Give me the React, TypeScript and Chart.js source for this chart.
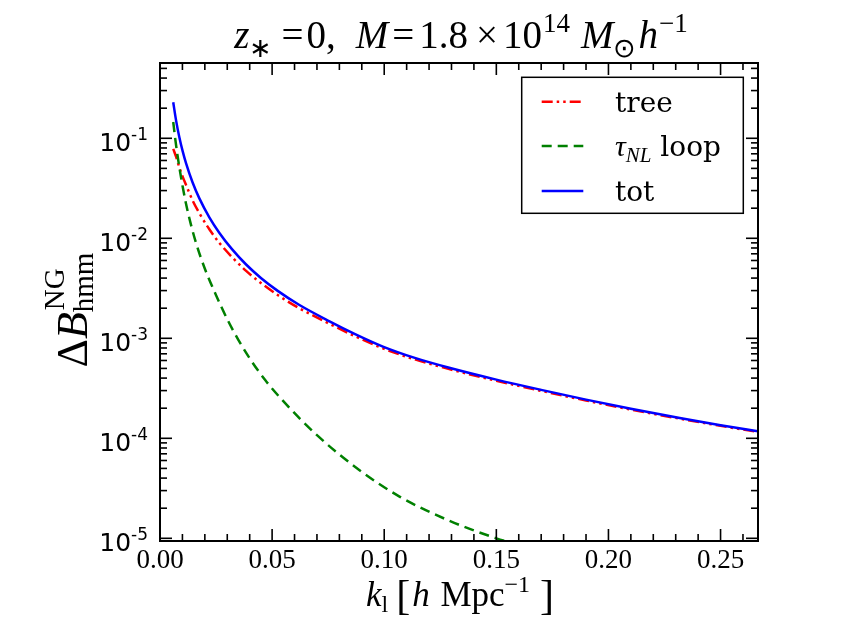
import { useEffect, useRef } from 'react';
import { Chart, registerables } from 'chart.js';
Chart.register(...registerables);

// k_l values [h/Mpc] and Delta B curves
const kMain = [0.0059, 0.0072, 0.0086, 0.0101, 0.0116, 0.0145, 0.0175, 0.022, 0.0265, 0.032, 0.0384, 0.045, 0.0525, 0.062, 0.0756, 0.087, 0.0994, 0.114, 0.129, 0.15, 0.17, 0.19, 0.21, 0.2318, 0.25, 0.2667];
const treeVals = [0.0785, 0.0651, 0.0513, 0.0414, 0.0342, 0.024, 0.0179, 0.0123, 0.00899, 0.00653, 0.00472, 0.003575, 0.002707, 0.002006, 0.001396, 0.001049, 0.000793, 0.000612, 0.000492, 0.000376, 0.000298, 0.0002387, 0.0001939, 0.0001571, 0.0001332, 0.0001157];
const totVals = [0.229, 0.1494, 0.1032, 0.0744, 0.0564, 0.0363, 0.0252, 0.0162, 0.01131, 0.00783, 0.00547, 0.004012, 0.002979, 0.002164, 0.001479, 0.001102, 0.000827, 0.000633, 0.000507, 0.000386, 0.000305, 0.0002437, 0.0001976, 0.0001598, 0.0001353, 0.0001174];
const kLoop = [0.0059, 0.0068, 0.0078, 0.009, 0.0101, 0.0116, 0.0138, 0.0162, 0.0198, 0.025, 0.03, 0.035, 0.04, 0.047, 0.055, 0.0705, 0.089, 0.107, 0.129, 0.15, 0.16];
const loopVals = [0.1455, 0.0986, 0.0676, 0.0457, 0.033, 0.0222, 0.0137, 0.0088, 0.0051, 0.0027, 0.00155, 0.00096, 0.00063, 0.00038, 0.000235, 0.000105, 4.8e-5, 2.6e-5, 1.5e-5, 1.0e-5, 8.6e-6];

const xMajor = [0, 0.05, 0.1, 0.15, 0.2, 0.25];
const xLabels = ['0.00', '0.05', '0.10', '0.15', '0.20', '0.25'];
const yDecades = [1e-5, 1e-4, 1e-3, 1e-2, 1e-1];
const yExponents = ['-5', '-4', '-3', '-2', '-1'];

const X_MAX = 0.2667;
const Y_MIN = 9.4e-6;
const Y_MAX = 0.566;

const MATH = '"Liberation Serif"';
const SERIF = '"DejaVu Serif"';
const SANS = '"DejaVu Sans"';

const RED = '#ff0000';
const GREEN = '#008000';
const BLUE = '#0000ff';
const TREE_DASH = [11, 4, 2.5, 4, 2.5, 4];
const LOOP_DASH = [10, 6];

type Seg = { t: string; f: string; dy?: number; gap?: number };

function drawSegs(ctx: CanvasRenderingContext2D, segs: Seg[], x: number, y: number, align: 'left' | 'center' | 'right') {
  let w = 0;
  for (const s of segs) { ctx.font = s.f; w += ctx.measureText(s.t).width + (s.gap || 0); }
  let cx = align === 'center' ? x - w / 2 : align === 'right' ? x - w : x;
  ctx.textAlign = 'left';
  ctx.textBaseline = 'alphabetic';
  for (const s of segs) {
    ctx.font = s.f;
    ctx.fillText(s.t, cx, y + (s.dy || 0));
    cx += ctx.measureText(s.t).width + (s.gap || 0);
  }
}

const decorations = {
  id: 'decorations',
  afterDraw(chart: Chart) {
    const ctx = chart.ctx;
    const xs = chart.scales.x;
    const ys = chart.scales.y;
    const { left, right, top, bottom } = chart.chartArea;
    ctx.save();
    ctx.strokeStyle = '#000';
    ctx.fillStyle = '#000';
    ctx.setLineDash([]);

    const seg = (x1: number, y1: number, x2: number, y2: number) => {
      ctx.beginPath(); ctx.moveTo(x1, y1); ctx.lineTo(x2, y2); ctx.stroke();
    };

    // ticks, pointing inward on all four sides
    ctx.lineWidth = 1.6;
    for (let i = 0; i <= 26; i++) {
      const px = xs.getPixelForValue(i / 100);
      const len = i % 5 === 0 ? 12 : 7;
      seg(px, bottom, px, bottom - len);
      seg(px, top, px, top + len);
    }
    for (let e = -6; e <= 0; e++) {
      for (let m = 1; m <= 9; m++) {
        const v = m * Math.pow(10, e);
        if (v < Y_MIN || v > Y_MAX) continue;
        const py = ys.getPixelForValue(v);
        const len = m === 1 ? 12 : 7;
        seg(left, py, left + len, py);
        seg(right, py, right - len, py);
      }
    }

    ctx.lineWidth = 2;
    ctx.strokeRect(left, top, right - left, bottom - top);

    // tick labels
    ctx.font = `27px ${MATH}`;
    ctx.textAlign = 'center';
    ctx.textBaseline = 'alphabetic';
    xMajor.forEach((v, i) => ctx.fillText(xLabels[i], xs.getPixelForValue(v), bottom + 27));
    yDecades.forEach((v, i) => {
      const py = ys.getPixelForValue(v);
      drawSegs(ctx, [
        { t: '10', f: `25px ${SANS}` },
        { t: yExponents[i], f: `17px ${SANS}`, dy: -11 },
      ], left - 12, py + 13, 'right');
    });

    // title
    const T = 39;
    const S = 27;
    drawSegs(ctx, [
      { t: 'z', f: `italic ${T}px ${MATH}` },
      { t: '\u2217', f: `${S}px ${MATH}`, dy: 9, gap: 9 },
      { t: '=', f: `${T}px ${MATH}`, gap: 3 },
      { t: '0,', f: `${T}px ${MATH}`, gap: 20 },
      { t: 'M', f: `italic ${T}px ${MATH}`, gap: 4 },
      { t: '=', f: `${T}px ${MATH}`, gap: 5 },
      { t: '1.8', f: `${T}px ${MATH}`, gap: 8 },
      { t: '\u00d7', f: `${T}px ${MATH}`, gap: 5 },
      { t: '10', f: `${T}px ${MATH}`, gap: 1 },
      { t: '14', f: `${S}px ${MATH}`, dy: -16, gap: 11 },
      { t: 'M', f: `italic ${T}px ${MATH}` },
      { t: '\u2299', f: `${S}px ${MATH}`, dy: 9, gap: 2 },
      { t: 'h', f: `italic ${T}px ${MATH}`, gap: 1 },
      { t: '\u22121', f: `${S}px ${MATH}`, dy: -16 },
    ], (left + right) / 2 + 2, 48, 'center');

    // x axis label
    drawSegs(ctx, [
      { t: 'k', f: `italic 35px ${MATH}` },
      { t: 'l', f: `24px ${MATH}`, dy: 6, gap: 8 },
      { t: '[', f: `42px ${MATH}`, dy: 3, gap: 2 },
      { t: 'h', f: `italic 35px ${MATH}`, gap: 2 },
      { t: ' Mpc', f: `35px ${MATH}` },
      { t: '\u22121', f: `24px ${MATH}`, dy: -14, gap: 10 },
      { t: ']', f: `42px ${MATH}`, dy: 3 },
    ], (left + right) / 2 + 1, 606, 'center');

    // y axis label, rotated
    ctx.save();
    ctx.translate(87, (top + bottom) / 2 + 8);
    ctx.rotate(-Math.PI / 2);
    ctx.textAlign = 'left';
    ctx.font = `44px ${MATH}`;
    const dW = ctx.measureText('\u0394').width;
    ctx.font = `italic 44px ${MATH}`;
    const bW = ctx.measureText('B').width;
    ctx.font = `29px ${MATH}`;
    const subW = ctx.measureText('hmm').width;
    const x0 = -(dW + bW + subW) / 2;
    ctx.font = `44px ${MATH}`;
    ctx.fillText('\u0394', x0, 0);
    ctx.font = `italic 44px ${MATH}`;
    ctx.fillText('B', x0 + dW, 0);
    ctx.font = `29px ${MATH}`;
    ctx.fillText('hmm', x0 + dW + bW, 6);
    ctx.fillText('NG', x0 + dW + bW + 2, -23);
    ctx.restore();

    // legend
    const lx = 521.7, ly = 77.3, lw = 221.6, lh = 136;
    ctx.fillStyle = '#fff';
    ctx.fillRect(lx, ly, lw, lh);
    ctx.lineWidth = 1.5;
    ctx.strokeStyle = '#000';
    ctx.strokeRect(lx, ly, lw, lh);
    const rows = [
      { y: 101.7, c: RED, d: TREE_DASH },
      { y: 146, c: GREEN, d: LOOP_DASH },
      { y: 191, c: BLUE, d: [] as number[] },
    ];
    ctx.lineWidth = 2.5;
    rows.forEach((r) => {
      ctx.strokeStyle = r.c;
      ctx.setLineDash(r.d);
      seg(541.7, r.y, 583.3, r.y);
    });
    ctx.setLineDash([]);
    ctx.fillStyle = '#000';
    drawSegs(ctx, [{ t: 'tree', f: `28px ${SERIF}` }], 615, 112, 'left');
    drawSegs(ctx, [
      { t: '\u03c4', f: `italic 30px ${MATH}` },
      { t: 'NL', f: `italic 21px ${MATH}`, dy: 6 },
      { t: ' loop', f: `28px ${SERIF}` },
    ], 615, 156, 'left');
    drawSegs(ctx, [{ t: 'tot', f: `28px ${SERIF}` }], 615, 201, 'left');

    ctx.restore();
  },
};

export default function App() {
  const canvasRef = useRef<HTMLCanvasElement>(null);

  useEffect(() => {
    if (!canvasRef.current) return;
    const pts = (ks: number[], vs: number[]) => ks.map((k, i) => ({ x: k, y: vs[i] }));

    const chart = new Chart(canvasRef.current, {
      type: 'line',
      data: {
        datasets: [
          { label: 'tree', data: pts(kMain, treeVals), borderColor: RED, borderDash: TREE_DASH, borderWidth: 2.5, order: 2 },
          { label: 'tau_NL loop', data: pts(kLoop, loopVals), borderColor: GREEN, borderDash: LOOP_DASH, borderWidth: 2.5, order: 1 },
          { label: 'tot', data: pts(kMain, totVals), borderColor: BLUE, borderWidth: 2.5, order: 0 },
        ],
      },
      options: {
        animation: false,
        responsive: true,
        maintainAspectRatio: false,
        elements: { point: { radius: 0 }, line: { cubicInterpolationMode: 'monotone', fill: false } },
        datasets: { line: { clip: 0 } },
        layout: { padding: { left: 0, top: 63, right: 85, bottom: 0 } },
        plugins: { legend: { display: false }, tooltip: { enabled: false }, title: { display: false } },
        scales: {
          x: {
            type: 'linear', min: 0, max: X_MAX,
            ticks: { display: false }, grid: { display: false }, border: { display: false },
            afterFit: (s: any) => { s.height = 91; },
          },
          y: {
            type: 'logarithmic', min: Y_MIN, max: Y_MAX,
            ticks: { display: false }, grid: { display: false }, border: { display: false },
            afterFit: (s: any) => { s.width = 160; },
          },
        },
      },
      plugins: [decorations],
    });

    return () => { chart.destroy(); };
  }, []);

  return (
    <div style={{ position: 'absolute', left: 0, top: 0, width: 843, height: 632, background: '#fff' }}>
      <canvas ref={canvasRef} role="img" aria-label="Delta B hmm NG versus k_l" />
    </div>
  );
}
